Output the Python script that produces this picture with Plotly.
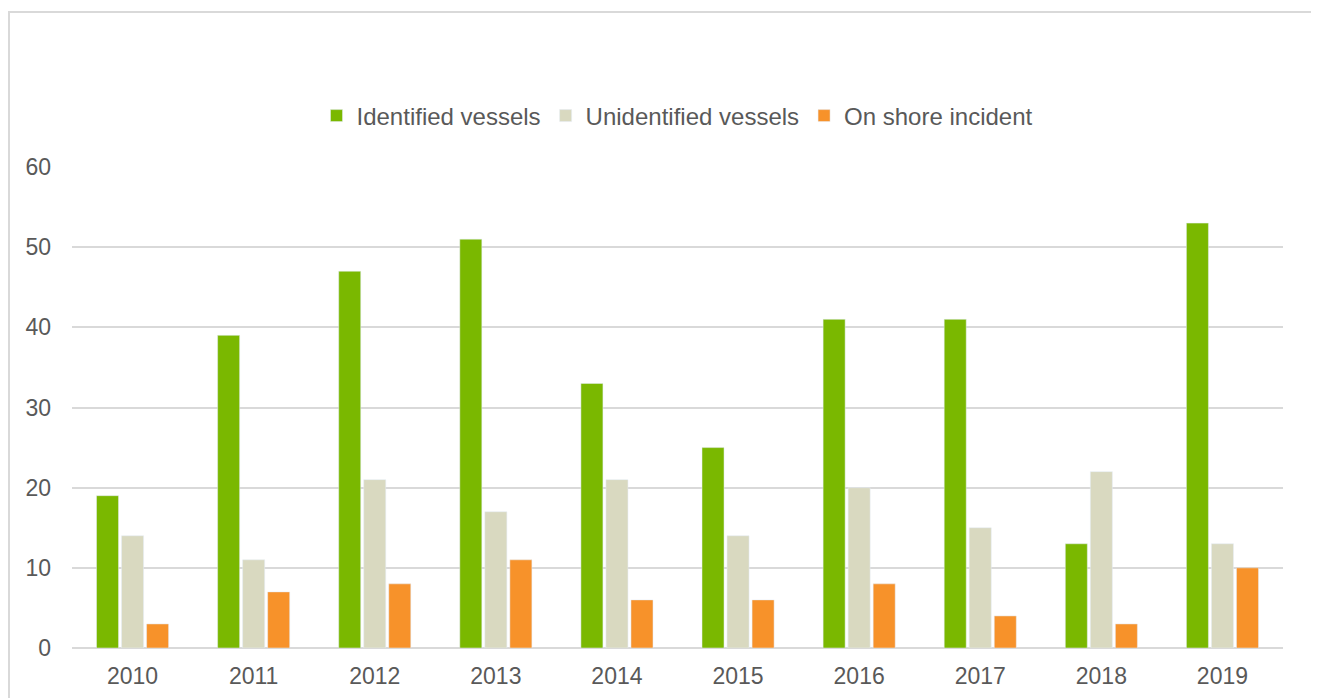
import plotly.graph_objects as go

years = ["2010", "2011", "2012", "2013", "2014", "2015", "2016", "2017", "2018", "2019"]
identified = [19, 39, 47, 51, 33, 25, 41, 41, 13, 53]
unidentified = [14, 11, 21, 17, 21, 14, 20, 15, 22, 13]
on_shore = [3, 7, 8, 11, 6, 6, 8, 4, 3, 10]

fig = go.Figure()
fig.add_trace(go.Bar(name="Identified vessels", x=years, y=identified, marker_color="#7ab800"))
fig.add_trace(go.Bar(name="Unidentified vessels", x=years, y=unidentified, marker_color="#d9d9c0"))
fig.add_trace(go.Bar(name="On shore incident", x=years, y=on_shore, marker_color="#f7922a"))

OFF = 8  # page offset of the figure in the browser
W, H = 1319, 698
L, T = 72 - OFF, 167 - OFF
R = W - (1283 - OFF)
B = H - (648 - OFF)
pw, ph = W - L - R, H - T - B

def px2x(p):
    return (p - OFF - L) / pw

def py2y(p):
    return (H - B - (p - OFF)) / ph

fig.update_layout(
    width=W, height=H,
    margin=dict(l=L, r=R, t=T, b=B),
    paper_bgcolor="white", plot_bgcolor="white",
    barmode="group", bargap=0.38, bargroupgap=0.12,
    font=dict(family="Liberation Sans, Arial, sans-serif", size=23, color="#595959"),
    legend=dict(orientation="h", x=0.5, xanchor="center", y=py2y(116), yanchor="middle",
                font=dict(size=24, color="#595959"), traceorder="normal",
                itemwidth=30, tracegroupgap=0),
    xaxis=dict(showgrid=False, showline=False, ticks="", tickfont=dict(size=23),
               ticklabelstandoff=12),
    yaxis=dict(range=[0, 60], dtick=10, showgrid=True, gridcolor="#d9d9d9", gridwidth=2,
               zeroline=True, zerolinecolor="#d9d9d9", zerolinewidth=2,
               showline=False, ticks="", tickfont=dict(size=23), ticklabelstandoff=20),
    shapes=[dict(type="rect", xref="paper", yref="paper",
                 x0=px2x(9), x1=px2x(1312), y0=py2y(730), y1=py2y(12),
                 line=dict(color="#d9d9d9", width=2), fillcolor="rgba(0,0,0,0)", layer="below")],
)

fig.write_html("out.html")
